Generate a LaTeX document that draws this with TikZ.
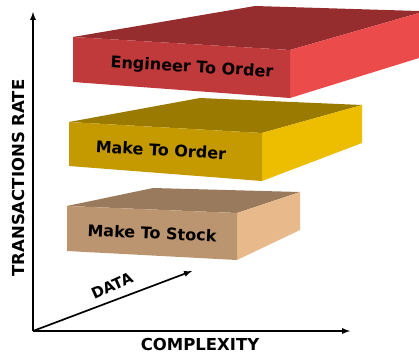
\documentclass[tikz,border=0pt]{standalone}
\usepackage{fontspec}
\setmainfont{DejaVu Sans}
\usetikzlibrary{arrows}
\definecolor{etofront}{HTML}{C0393B}
\definecolor{etotop}{HTML}{952D2F}
\definecolor{etoside}{HTML}{EB4B4B}
\definecolor{mtofront}{HTML}{C49A00}
\definecolor{mtotop}{HTML}{9A7B00}
\definecolor{mtoside}{HTML}{EDBE00}
\definecolor{mtsfront}{HTML}{BB9570}
\definecolor{mtstop}{HTML}{9A7A5C}
\definecolor{mtsside}{HTML}{E8B98A}
\tikzstyle{arrow} = [line width=1.7pt,->,>=latex]
\tikzset{
 lbl/.style
  = {font=\bfseries\fontsize{16}{16}\selectfont, inner sep=0pt},
 ax/.style
  = {font=\bfseries\fontsize{16.5}{16.5}\selectfont, inner sep=0pt},
}

\begin{document}
\begin{tikzpicture}[x=1pt, y=-1pt]
\useasboundingbox (0,0) rectangle (419,354);

% Engineer To Order block
\fill[etotop] (73,37) -- (255,6) -- (419,11) -- (419,13) -- (290,50) -- cycle;
\fill[etoside] (290,50) -- (419,13) -- (419,58) -- (290,98) -- cycle;
\fill[etofront] (73,37) -- (290,50) -- (290,98) -- (73,82) -- cycle;
\node[lbl,rotate=-3.4] (eto) at (192,68) {Engineer To Order};

% Make To Order block
\fill[mtotop] (69,122) -- (200,98) -- (362,105) -- (262,133) -- cycle;
\fill[mtoside] (262,133) -- (362,105) -- (362,143) -- (262,181) -- cycle;
\fill[mtofront] (69,122) -- (262,133) -- (262,181) -- (69,166) -- cycle;
\node[lbl,rotate=-3.3] (mto) at (161,150) {Make To Order};

% Make To Stock block
\fill[mtstop] (67,206) -- (153,188) -- (300,192) -- (237,213) -- cycle;
\fill[mtsside] (237,213) -- (300,192) -- (300,230) -- (237,260) -- cycle;
\fill[mtsfront] (67,206) -- (237,213) -- (237,260) -- (67,251) -- cycle;
\node[lbl,rotate=-2.5] (mts) at (152,233) {Make To Stock};

% Axes
\coordinate (O) at (33,331);
\coordinate (ytop) at (33,12);
\coordinate (xend) at (350,331);
\coordinate (dend) at (192,271);
\draw[arrow] (O) -- (ytop);
\draw[arrow] (O) -- (xend);
\draw[arrow] (O) -- (dend);

% Axis labels
\node[ax,rotate=90] (rate) at (18,178) {TRANSACTIONS RATE};
\node[ax,anchor=base] (cplx) at (200,350) {COMPLEXITY};
\node[ax,rotate=24,font=\bfseries\fontsize{15}{15}\selectfont] (data) at (112,286) {DATA};

\end{tikzpicture}
\end{document}
